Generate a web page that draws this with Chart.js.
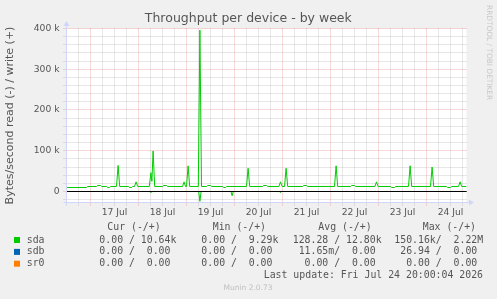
<!DOCTYPE html>
<html><head><meta charset="utf-8">
<script src="https://cdn.jsdelivr.net/npm/chart.js@4.4.1/dist/chart.umd.min.js"></script>
<style>html,body{margin:0;padding:0;background:#F0F0F0;}canvas{display:block;}</style>
</head><body>
<canvas id="c" width="497" height="299"></canvas>
<script>
// ---------- data ----------
const chartTitle = 'Throughput per device - by week';
const yAxisTitle = 'Bytes/second read (-) / write (+)';
// x values are hours since 17 Jul 00:00
const xRange = [-12, 188];
const xTickHours = [12, 36, 60, 84, 108, 132, 156, 180];
const xTickLabels = ['17 Jul', '18 Jul', '19 Jul', '20 Jul', '21 Jul', '22 Jul', '23 Jul', '24 Jul'];
const yRange = [-27000, 400000];
const yTickValues = [0, 100000, 200000, 300000, 400000];
const yTickLabels = ['0', '100 k', '200 k', '300 k', '400 k'];

// sda write (+), kB/s
const sdaWriteHours = [-12, -2, -1.5, 3, 3.5, 5, 5.5, 8, 8.5, 9.5, 10, 13, 13.8, 14.6, 19, 19.5, 20.5, 21, 22, 22.8, 23.6,
  29.4, 30.2, 30.7, 31.3, 32.1, 36, 36.5, 38, 38.5, 46, 46.8, 47.5, 48, 48.8, 49.6, 53.9, 54.7, 55.5, 58, 58.5, 60, 60.5,
  66, 66.5, 67.5, 68, 78, 78.8, 79.6, 86, 86.5, 88, 88.5, 94.2, 95, 95.8, 97, 97.8, 98.6, 106, 106.5, 108, 108.5,
  122, 122.8, 123.6, 130, 130.5, 132, 132.5, 142.2, 143, 143.8, 150, 150.5, 152, 152.5, 159, 159.8, 160.6,
  170, 170.8, 171.6, 178, 178.5, 180, 180.5, 184, 184.8, 185.6, 188];
const sdaWriteKB = [9.8, 9.8, 12.3, 12.3, 14.7, 14.7, 12.3, 12.3, 9.8, 9.8, 12.3, 12.3, 64, 12.3, 12.3, 9.8, 9.8, 12.3, 12.3, 23.7, 12.3,
  12.3, 46, 25, 99.5, 12.3, 12.3, 14.7, 14.7, 12.3, 12.3, 23.5, 12.3, 12.3, 63, 12.3, 12.3, 396, 12.3, 12.3, 14.7, 14.7, 12.3,
  12.3, 9.8, 9.8, 12.3, 12.3, 57, 12.3, 12.3, 14.7, 14.7, 12.3, 12.3, 23.7, 12.3, 12.3, 57, 12.3, 12.3, 14.7, 14.7, 12.3,
  12.3, 63, 12.3, 12.3, 14.7, 14.7, 12.3, 12.3, 23.7, 12.3, 12.3, 9.8, 9.8, 12.3, 12.3, 63, 12.3,
  12.3, 60, 12.3, 12.3, 9.8, 9.8, 12.3, 12.3, 23.7, 12.3, 12.3];
// sda read (-), kB/s
const sdaReadHours = [-12, 29.6, 30.2, 30.8, 54.1, 54.7, 55.3, 70.2, 70.8, 71.4, 94.4, 95, 95.6, 188];
const sdaReadKB = [0, 0, -2.5, 0, 0, -24, 0, 0, -10.5, 0, 0, -2.5, 0, 0];
const sdbHours = [-12, 188];
const sdbKB = [0, 0];
const sr0Hours = [-12, 188];
const sr0KB = [0, 0];

const seriesNames = ['sda', 'sdb', 'sr0'];
const seriesColors = ['#00CC00', '#0066B3', '#FF8000'];
const legendHeaders = ['Cur (-/+)', 'Min (-/+)', 'Avg (-/+)', 'Max (-/+)'];
const legendCur = ['  0.00 / 10.64k', '  0.00 /  0.00', '  0.00 /  0.00'];
const legendMin = ['  0.00 /  9.29k', '  0.00 /  0.00', '  0.00 /  0.00'];
const legendAvg = ['128.28 / 12.80k', ' 11.65m/  0.00', '  0.00 /  0.00'];
const legendMax = ['150.16k/  2.22M', ' 26.94 /  0.00', '  0.00 /  0.00'];
const lastUpdate = 'Last update: Fri Jul 24 20:00:04 2026';
const footerText = 'Munin 2.0.73';
const watermark = 'RRDTOOL / TOBI OETIKER';

// ---------- build ----------
const pts = (hs, vs) => hs.map((h, i) => ({x: h, y: vs[i] * 1000}));
const lineDs = (label, data, color) => ({label, data, borderColor: color, backgroundColor: color,
  borderWidth: 1, pointRadius: 0, tension: 0, fill: false});

const FONT = '"DejaVu Sans", sans-serif';
const MONO = '"DejaVu Sans Mono", monospace';
const TXT = '#555555';
const MINOR = 'rgba(140,140,140,0.42)';
const MAJOR = 'rgba(225,85,85,0.45)';

const muninPlugin = {
  id: 'munin',
  beforeDraw(chart) {
    const {ctx, chartArea: a} = chart;
    ctx.save();
    ctx.fillStyle = '#FFFFFF';
    ctx.fillRect(a.left, a.top, a.right - a.left, a.bottom - a.top);
    ctx.restore();
  },
  beforeDatasetsDraw(chart) {
    const {ctx, chartArea: a, scales: {x, y}} = chart;
    const snap = p => Math.round(p - 0.5) + 0.5;
    ctx.save();
    ctx.lineWidth = 1;
    ctx.setLineDash([1, 1]);
    const drawH = (v, col) => { const p = snap(y.getPixelForValue(v)); ctx.strokeStyle = col; ctx.beginPath(); ctx.moveTo(a.left - 3, p); ctx.lineTo(a.right, p); ctx.stroke(); };
    const drawV = (v, col) => { const p = snap(x.getPixelForValue(v)); ctx.strokeStyle = col; ctx.beginPath(); ctx.moveTo(p, a.bottom + 3); ctx.lineTo(p, a.top); ctx.stroke(); };
    for (let v = -20000; v <= yRange[1]; v += 20000) if (v % 100000 !== 0) drawH(v, MINOR);
    for (let h = xRange[0]; h <= xRange[1]; h += 6) if (h % 24 !== 0) drawV(h, MINOR);
    for (let v = 0; v <= yRange[1]; v += 100000) drawH(v, MAJOR);
    for (let h = 0; h <= xRange[1]; h += 24) drawV(h, MAJOR);
    ctx.restore();
  },
  afterDatasetsDraw(chart) {
    const {ctx, chartArea: a, scales: {x, y}} = chart;
    ctx.save();
    // zero rule
    const z = Math.round(y.getPixelForValue(0) - 0.5) + 0.5;
    ctx.strokeStyle = '#000000'; ctx.lineWidth = 1;
    ctx.beginPath(); ctx.moveTo(a.left, z); ctx.lineTo(a.right, z); ctx.stroke();
    // axes
    ctx.strokeStyle = '#CFD6F8'; ctx.fillStyle = '#CFD6F8';
    ctx.beginPath(); ctx.moveTo(a.left, a.bottom + 3); ctx.lineTo(a.left, a.top - 4); ctx.stroke();
    ctx.beginPath(); ctx.moveTo(a.left - 3, a.bottom); ctx.lineTo(a.right + 4, a.bottom); ctx.stroke();
    ctx.beginPath(); ctx.moveTo(a.left, a.top - 7.5); ctx.lineTo(a.left - 3, a.top - 2.5); ctx.lineTo(a.left + 3, a.top - 2.5); ctx.closePath(); ctx.fill();
    ctx.beginPath(); ctx.moveTo(a.right + 7.5, a.bottom); ctx.lineTo(a.right + 2.5, a.bottom - 3); ctx.lineTo(a.right + 2.5, a.bottom + 3); ctx.closePath(); ctx.fill();
    ctx.restore();
  },
  afterDraw(chart) {
    const {ctx} = chart;
    ctx.save();
    // title
    ctx.fillStyle = TXT;
    ctx.font = '12.5px ' + FONT;
    ctx.textAlign = 'center'; ctx.textBaseline = 'middle';
    ctx.fillText(chartTitle, 248.3, 19);
    // watermark
    ctx.save();
    ctx.translate(489, 5);
    ctx.rotate(Math.PI / 2);
    ctx.font = '7.4px ' + FONT; ctx.fillStyle = '#C8C8C8';
    ctx.textAlign = 'left'; ctx.textBaseline = 'middle';
    ctx.fillText(watermark, 0, 0);
    ctx.restore();
    // legend
    ctx.font = '9.85px ' + MONO; ctx.fillStyle = TXT;
    ctx.textAlign = 'left'; ctx.textBaseline = 'middle';
    const hx = [107.3, 212.7, 318.3, 422.7];
    legendHeaders.forEach((t, i) => ctx.fillText(t, hx[i], 227.7));
    const rowY = [240, 251.9, 263.7];
    const colX = [87.5, 189.5, 292.7, 394.3];
    seriesNames.forEach((n, i) => {
      ctx.fillStyle = seriesColors[i];
      ctx.fillRect(14, rowY[i] - 3, 6, 6);
      ctx.fillStyle = TXT;
      ctx.fillText(n, 26.7, rowY[i]);
      [legendCur, legendMin, legendAvg, legendMax].forEach((col, j) => ctx.fillText(col[i], colX[j], rowY[i]));
    });
    ctx.textAlign = 'right';
    ctx.fillText(lastUpdate, 483, 275.7);
    ctx.textAlign = 'center';
    ctx.font = '7.5px ' + FONT; ctx.fillStyle = '#C0C0C0';
    ctx.fillText(footerText, 248, 288.3);
    ctx.restore();
  }
};

new Chart(document.getElementById('c'), {
  type: 'line',
  data: {
    datasets: [
      lineDs('sda read', pts(sdaReadHours, sdaReadKB), seriesColors[0]),
      lineDs('sda write', pts(sdaWriteHours, sdaWriteKB), seriesColors[0]),
      lineDs('sdb', pts(sdbHours, sdbKB), seriesColors[1]),
      lineDs('sr0', pts(sr0Hours, sr0KB), seriesColors[2])
    ]
  },
  options: {
    responsive: false,
    animation: false,
    devicePixelRatio: 1,
    layout: {padding: {left: 0, top: 28.5, right: 30.5, bottom: 76.5}},
    plugins: {legend: {display: false}, title: {display: false}, tooltip: {enabled: false}},
    scales: {
      x: {
        type: 'linear', min: xRange[0], max: xRange[1],
        grid: {display: false, drawTicks: false, tickLength: 0},
        border: {display: false},
        afterBuildTicks: s => { s.ticks = xTickHours.map(v => ({value: v})); },
        afterFit: s => { s.height = 20; },
        ticks: {
          autoSkip: false, maxRotation: 0, minRotation: 0, padding: 4.5,
          color: TXT, font: {family: FONT, size: 9.2},
          callback: v => xTickLabels[xTickHours.indexOf(v)]
        }
      },
      y: {
        type: 'linear', min: yRange[0], max: yRange[1],
        grid: {display: false, drawTicks: false, tickLength: 0},
        border: {display: false},
        afterBuildTicks: s => { s.ticks = yTickValues.map(v => ({value: v})); },
        afterFit: s => { s.width = 66.5; },
        ticks: {
          padding: 7, color: TXT, font: {family: FONT, size: 9.2},
          callback: v => yTickLabels[yTickValues.indexOf(v)]
        },
        title: {display: true, text: yAxisTitle, color: TXT, font: {family: FONT, size: 11}, padding: {top: 3.5, bottom: 0}}
      }
    }
  },
  plugins: [muninPlugin]
});
</script>
</body></html>
